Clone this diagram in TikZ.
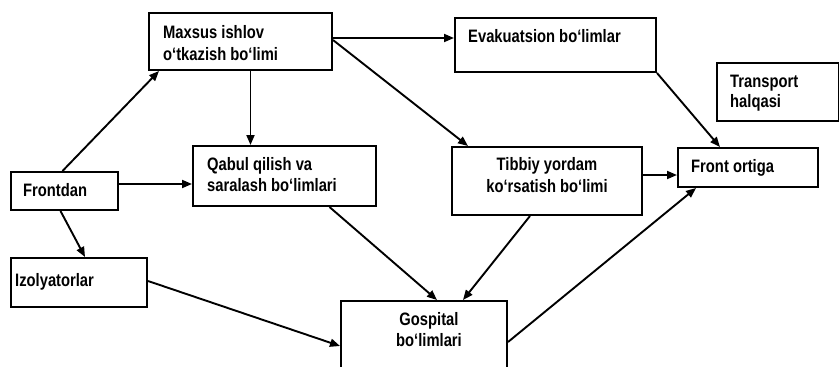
\documentclass[tikz,border=0pt]{standalone}
\usepackage{fontspec}
\setmainfont{Liberation Sans}[FakeStretch=0.82]
\usetikzlibrary{arrows.meta}
\begin{document}
\begin{tikzpicture}[x=1pt,y=-1pt,
  box/.style={draw, line width=2pt, inner sep=0pt},
  lbl/.style={inner sep=0pt, anchor=base west, font=\bfseries\fontsize{18}{22}\selectfont},
  clbl/.style={inner sep=0pt, anchor=base, font=\bfseries\fontsize{18}{22}\selectfont},
  arr/.style={line width=1.9pt, -{Triangle[length=10pt,width=8pt]}}]
\useasboundingbox (0,0) rectangle (839,367);
% boxes
\node[box, minimum width=183pt, minimum height=57pt] (maxsus) at (240.5,41.5) {};
\node[box, minimum width=201pt, minimum height=54pt] (evak) at (555.5,45) {};
\node[box, minimum width=122pt, minimum height=58pt] (trans) at (778,92) {};
\node[box, minimum width=107pt, minimum height=38pt] (front) at (64.5,191) {};
\node[box, minimum width=183pt, minimum height=60pt] (qabul) at (284.5,176) {};
\node[box, minimum width=190pt, minimum height=68pt] (tibbiy) at (547,181) {};
\node[box, minimum width=140pt, minimum height=39pt] (ortiga) at (748,167.5) {};
\node[box, minimum width=136pt, minimum height=49pt] (izol) at (79,282.5) {};
\node[box, minimum width=166pt, minimum height=80pt] (gosp) at (424,341) {};
% texts
\node[lbl] (t1) at (163,38) {Maxsus ishlov};
\node[lbl] (t2) at (163,60) {o‘tkazish bo‘limi};
\node[lbl] (t3) at (468,42) {Evakuatsion bo‘limlar};
\node[lbl] (t4) at (730,87) {Transport};
\node[lbl] (t5) at (730,107) {halqasi};
\node[lbl] (t6) at (23,196) {Frontdan};
\node[lbl] (t7) at (207,170) {Qabul qilish va};
\node[lbl] (t8) at (207,191) {saralash bo‘limlari};
\node[clbl] (t9) at (547,170) {Tibbiy yordam};
\node[clbl] (t10) at (547,192) {ko‘rsatish bo‘limi};
\node[lbl] (t11) at (691,172) {Front ortiga};
\node[lbl] (t12) at (15,286) {Izolyatorlar};
\node[clbl] (t13) at (429,325) {Gospital};
\node[clbl] (t14) at (429,346) {bo‘limlari};
% connectors
\draw[arr] ([xshift=-2pt]front.north) -- ([xshift=11pt]maxsus.south west);
\draw[arr] ([yshift=7pt]front.east) -- ([yshift=7pt]front.east -| qabul.west);
\draw[arr] ([xshift=-4pt]front.south) -- ([xshift=6pt]izol.north);
\draw[arr] ([xshift=10pt]maxsus.south) -- ([xshift=10pt]maxsus.south |- qabul.north);
\draw[arr] ([yshift=3.5pt]maxsus.east) -- ([yshift=3.5pt]maxsus.east -| evak.west);
\draw[arr] ([yshift=1.5pt]maxsus.east) -- ([xshift=-79pt]tibbiy.north);
\draw[arr] (evak.south east) -- ([xshift=-28pt]ortiga.north);
\draw[arr] ([yshift=6pt]tibbiy.east) -- ([yshift=6pt]tibbiy.east -| ortiga.west);
\draw[arr] ([xshift=45pt]qabul.south) -- ([xshift=13pt]gosp.north);
\draw[arr] ([xshift=-17pt]tibbiy.south) -- ([xshift=39pt]gosp.north);
\draw[arr] ([yshift=1.5pt]izol.east) -- ([yshift=-5pt]gosp.west);
\draw[arr] ([yshift=-1pt]gosp.east) -- ([xshift=19pt]ortiga.south west);
\end{tikzpicture}
\end{document}
